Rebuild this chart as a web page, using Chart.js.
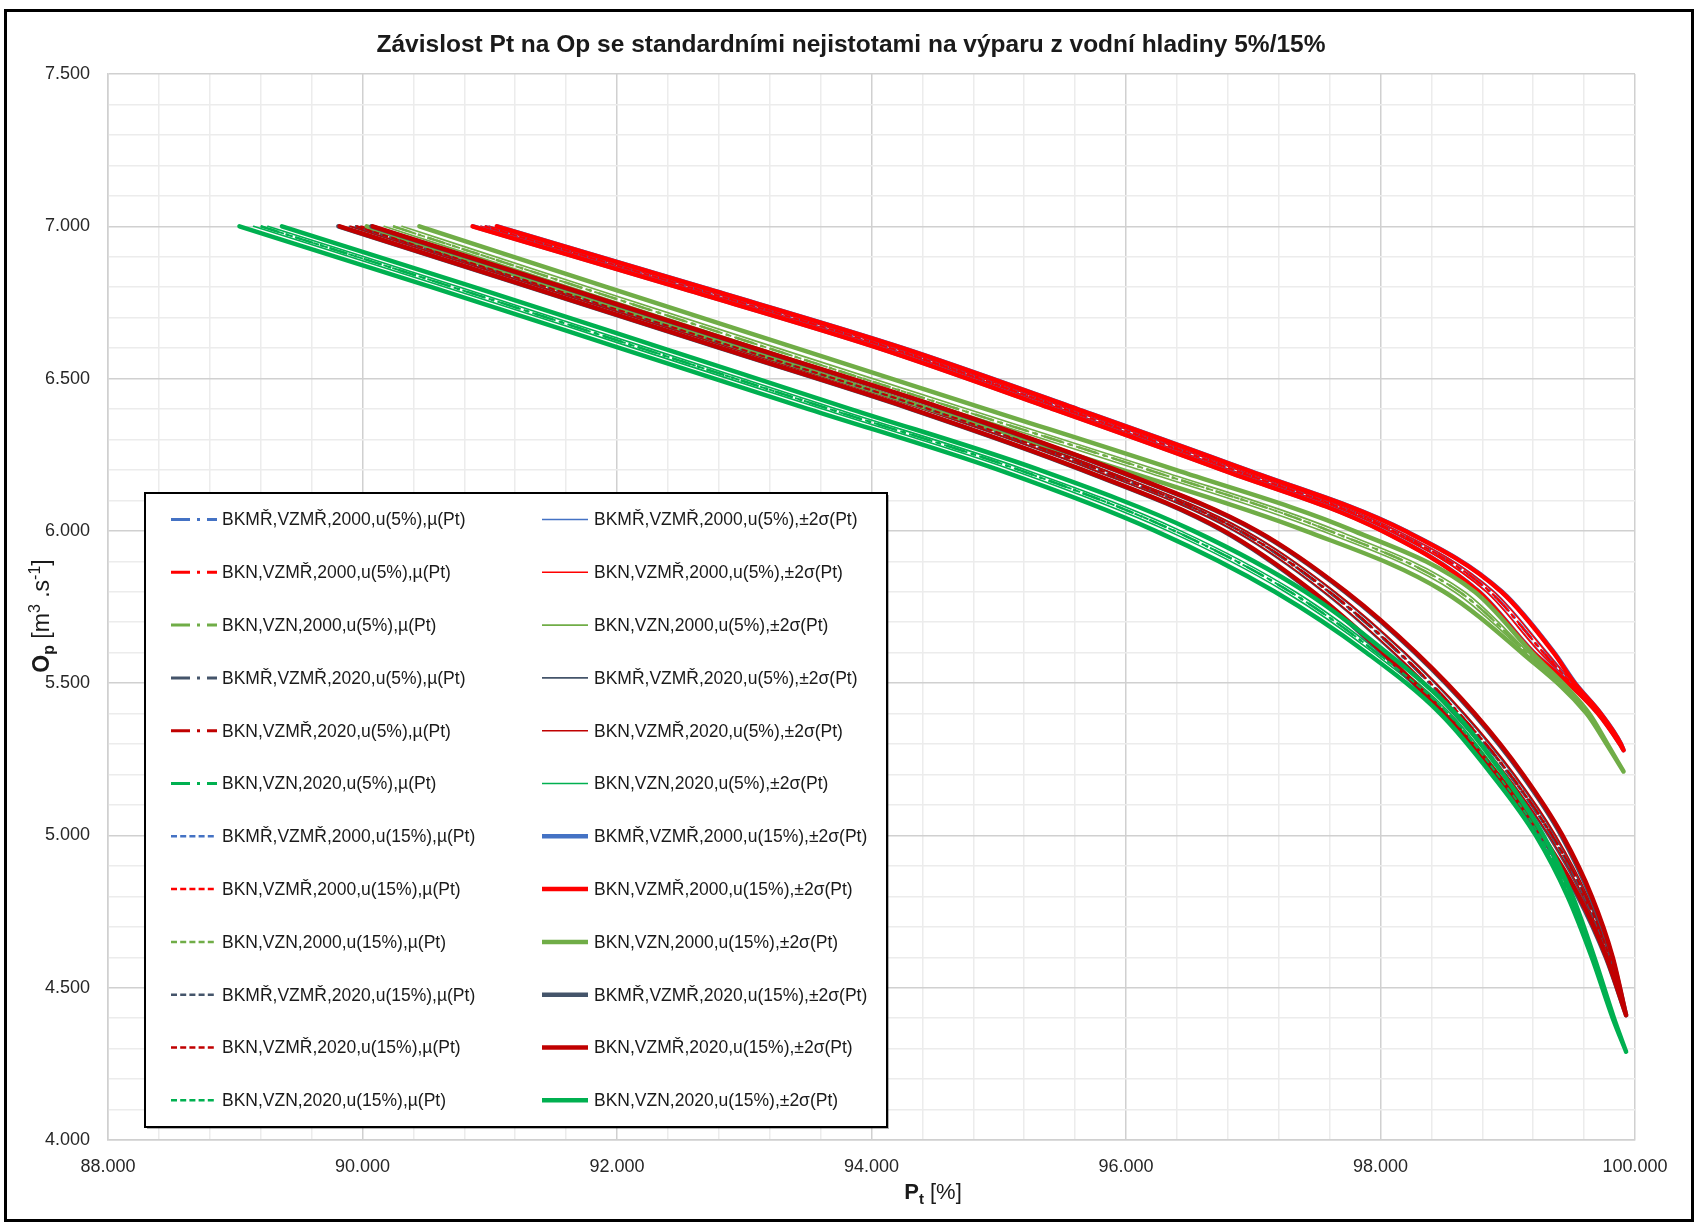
<!DOCTYPE html>
<html>
<head>
<meta charset="utf-8">
<script src="https://cdn.jsdelivr.net/npm/chart.js@4.4.1/dist/chart.umd.min.js"></script>
<style>
  html, body { margin: 0; background: #fff; }
  #wrap { width: 1698px; height: 1225px; position: relative; }
</style>
</head>
<body>
<div id="wrap"><canvas id="myChart"></canvas></div>
<script>
// scenarios and colours (order as in the legend)
const scenarios = ['BKMŘ,VZMŘ,2000', 'BKN,VZMŘ,2000', 'BKN,VZN,2000', 'BKMŘ,VZMŘ,2020', 'BKN,VZMŘ,2020', 'BKN,VZN,2020'];
const colors = ['#4472C4', '#FF0000', '#70AD47', '#44546A', '#C00000', '#00B050'];
const uncertainties = ['5%', '15%'];

// Op levels [m3/s] where Pt was read
const opA = [7.0, 6.8, 6.6, 6.4, 6.2, 6.0, 5.8, 5.6, 5.5, 5.4, 5.3, 5.28];
const opB = [7.0, 6.8, 6.6, 6.4, 6.2, 6.0, 5.8, 5.6, 5.4, 5.3, 5.21];
const opC = [7.0, 6.8, 6.6, 6.4, 6.2, 6.0, 5.8, 5.6, 5.4, 5.2, 5.0, 4.8, 4.6, 4.41];
const opD = [7.0, 6.8, 6.6, 6.4, 6.2, 6.0, 5.8, 5.6, 5.4, 5.2, 5.0, 4.8, 4.6, 4.4, 4.29];

// Pt [%] - BKMŘ,VZMŘ,2000
const mu_mr2000   = [90.965, 92.575, 94.155, 95.525, 96.855, 98.105, 98.865, 99.285, 99.505, 99.722, 99.886, 99.91];
const lo5_mr2000  = [90.933, 92.543, 94.123, 95.493, 96.823, 98.075, 98.835, 99.258, 99.497, 99.719, 99.885, 99.91];
const hi5_mr2000  = [90.997, 92.607, 94.187, 95.557, 96.887, 98.135, 98.895, 99.312, 99.513, 99.725, 99.887, 99.91];
const lo15_mr2000 = [90.870, 92.480, 94.060, 95.430, 96.760, 98.015, 98.775, 99.205, 99.480, 99.712, 99.882, 99.91];
const hi15_mr2000 = [91.060, 92.670, 94.250, 95.620, 96.950, 98.195, 98.955, 99.365, 99.530, 99.732, 99.890, 99.91];

// Pt [%] - BKN,VZMŘ,2000
const mu_nmr2000   = [90.960, 92.570, 94.150, 95.520, 96.850, 98.100, 98.860, 99.280, 99.500, 99.720, 99.885, 99.91];
const lo5_nmr2000  = [90.928, 92.538, 94.118, 95.488, 96.818, 98.070, 98.830, 99.253, 99.492, 99.717, 99.884, 99.91];
const hi5_nmr2000  = [90.992, 92.602, 94.182, 95.552, 96.882, 98.130, 98.890, 99.307, 99.508, 99.723, 99.886, 99.91];
const lo15_nmr2000 = [90.865, 92.475, 94.055, 95.425, 96.755, 98.010, 98.770, 99.200, 99.475, 99.710, 99.881, 99.91];
const hi15_nmr2000 = [91.055, 92.665, 94.245, 95.615, 96.945, 98.190, 98.950, 99.360, 99.525, 99.730, 99.889, 99.91];

// Pt [%] - BKN,VZN,2000
const mu_nn2000   = [90.240, 91.710, 93.190, 94.680, 96.180, 97.600, 98.620, 99.150, 99.630, 99.780, 99.91];
const lo5_nn2000  = [90.170, 91.640, 93.117, 94.607, 96.110, 97.537, 98.580, 99.137, 99.627, 99.779, 99.91];
const hi5_nn2000  = [90.310, 91.780, 93.263, 94.753, 96.250, 97.663, 98.660, 99.163, 99.633, 99.781, 99.91];
const lo15_nn2000 = [90.033, 91.500, 92.970, 94.460, 95.970, 97.410, 98.500, 99.110, 99.620, 99.776, 99.91];
const hi15_nn2000 = [90.447, 91.920, 93.410, 94.900, 96.390, 97.790, 98.740, 99.190, 99.640, 99.784, 99.91];

// Pt [%] - BKMŘ,VZMŘ,2020
const mu_mr2020   = [89.940, 91.440, 92.940, 94.440, 95.780, 96.890, 97.590, 98.140, 98.610, 99.010, 99.340, 99.600, 99.795, 99.93];
const lo5_mr2020  = [89.897, 91.397, 92.897, 94.397, 95.737, 96.847, 97.547, 98.097, 98.570, 98.977, 99.313, 99.583, 99.787, 99.93];
const hi5_mr2020  = [89.983, 91.483, 92.983, 94.483, 95.823, 96.933, 97.633, 98.183, 98.650, 99.043, 99.367, 99.617, 99.803, 99.93];
const lo15_mr2020 = [89.810, 91.310, 92.810, 94.310, 95.650, 96.760, 97.460, 98.010, 98.490, 98.910, 99.260, 99.550, 99.770, 99.93];
const hi15_mr2020 = [90.070, 91.570, 93.070, 94.570, 95.910, 97.020, 97.720, 98.270, 98.730, 99.110, 99.420, 99.650, 99.820, 99.93];

// Pt [%] - BKN,VZMŘ,2020
const mu_nmr2020   = [89.950, 91.450, 92.950, 94.450, 95.790, 96.900, 97.600, 98.150, 98.620, 99.020, 99.350, 99.610, 99.800, 99.93];
const lo5_nmr2020  = [89.907, 91.407, 92.907, 94.407, 95.747, 96.857, 97.557, 98.107, 98.580, 98.987, 99.323, 99.593, 99.792, 99.93];
const hi5_nmr2020  = [89.993, 91.493, 92.993, 94.493, 95.833, 96.943, 97.643, 98.193, 98.660, 99.053, 99.377, 99.627, 99.808, 99.93];
const lo15_nmr2020 = [89.820, 91.320, 92.820, 94.320, 95.660, 96.770, 97.470, 98.020, 98.500, 98.920, 99.270, 99.560, 99.775, 99.93];
const hi15_nmr2020 = [90.080, 91.580, 93.080, 94.580, 95.920, 97.030, 97.730, 98.280, 98.740, 99.120, 99.430, 99.660, 99.825, 99.93];

// Pt [%] - BKN,VZN,2020
const mu_nn2020   = [89.200, 90.710, 92.190, 93.670, 95.160, 96.380, 97.290, 97.970, 98.530, 98.920, 99.250, 99.490, 99.670, 99.830, 99.93];
const lo5_nn2020  = [89.144, 90.654, 92.134, 93.615, 95.107, 96.330, 97.250, 97.943, 98.510, 98.905, 99.240, 99.483, 99.667, 99.828, 99.93];
const hi5_nn2020  = [89.256, 90.766, 92.246, 93.725, 95.213, 96.430, 97.330, 97.997, 98.550, 98.935, 99.260, 99.497, 99.673, 99.832, 99.93];
const lo15_nn2020 = [89.033, 90.543, 92.023, 93.505, 95.000, 96.230, 97.170, 97.890, 98.470, 98.875, 99.220, 99.470, 99.660, 99.825, 99.93];
const hi15_nn2020 = [89.367, 90.877, 92.357, 93.835, 95.320, 96.530, 97.410, 98.050, 98.590, 98.965, 99.280, 99.510, 99.680, 99.835, 99.93];

const groups = [
  { op: opA, mu: mu_mr2000,  lo: [lo5_mr2000,  lo15_mr2000],  hi: [hi5_mr2000,  hi15_mr2000] },
  { op: opA, mu: mu_nmr2000, lo: [lo5_nmr2000, lo15_nmr2000], hi: [hi5_nmr2000, hi15_nmr2000] },
  { op: opB, mu: mu_nn2000,  lo: [lo5_nn2000,  lo15_nn2000],  hi: [hi5_nn2000,  hi15_nn2000] },
  { op: opC, mu: mu_mr2020,  lo: [lo5_mr2020,  lo15_mr2020],  hi: [hi5_mr2020,  hi15_mr2020] },
  { op: opC, mu: mu_nmr2020, lo: [lo5_nmr2020, lo15_nmr2020], hi: [hi5_nmr2020, hi15_nmr2020] },
  { op: opD, mu: mu_nn2020,  lo: [lo5_nn2020,  lo15_nn2020],  hi: [hi5_nn2020,  hi15_nn2020] },
];

const pts = (op, pt) => pt.map((x, i) => ({ x: x, y: op[i] }));

const muDash = [[19, 7, 3, 7], [6, 3.2]];
const muWidth = [2.5, 2];
const bandWidth = [1.6, 4.5];

const datasets = [];
uncertainties.forEach((u, ui) => {
  groups.forEach((g, gi) => {
    datasets.push({
      label: scenarios[gi] + ',u(' + u + '),µ(Pt)',
      data: pts(g.op, g.mu),
      borderColor: colors[gi],
      borderWidth: muWidth[ui],
      borderDash: muDash[ui],
    });
    datasets.push({
      label: scenarios[gi] + ',u(' + u + '),±2σ(Pt)',
      data: pts(g.op, g.lo[ui]).concat([{ x: null, y: null }], pts(g.op, g.hi[ui])),
      borderColor: colors[gi],
      borderWidth: bandWidth[ui],
      borderCapStyle: 'round',
    });
  });
});
datasets.forEach((d, i) => {
  d.order = -i;
  d.pointRadius = 0;
  d.fill = false;
  d.spanGaps = false;
  d.cubicInterpolationMode = 'monotone';
  d.borderJoinStyle = 'round';
});

const FONT = '"Liberation Sans", Arial, sans-serif';
const xMajor = v => Math.abs(v / 2 - Math.round(v / 2)) < 1e-6;
const yMajor = v => Math.abs(v * 2 - Math.round(v * 2)) < 1e-6;
const majorGrid = '#d0d0d0';
const minorGrid = '#ececec';

function richText(ctx, runs, cx, cy, rotate) {
  ctx.save();
  ctx.translate(cx, cy);
  if (rotate) ctx.rotate(-Math.PI / 2);
  let total = 0;
  runs.forEach(r => { ctx.font = r.font; r.w = ctx.measureText(r.t).width; total += r.w; });
  let x = -total / 2;
  ctx.textBaseline = 'alphabetic';
  ctx.fillStyle = '#1a1a1a';
  runs.forEach(r => { ctx.font = r.font; ctx.fillText(r.t, x, 8 + (r.dy || 0)); x += r.w; });
  ctx.restore();
}

const decor = {
  id: 'decor',
  beforeDraw(chart) {
    const ctx = chart.ctx;
    ctx.save();
    ctx.fillStyle = '#fff';
    ctx.fillRect(0, 0, chart.width, chart.height);
    ctx.restore();
  },
  afterDraw(chart) {
    const ctx = chart.ctx;
    ctx.save();
    // main title
    ctx.fillStyle = '#1a1a1a';
    ctx.font = 'bold 24.5px ' + FONT;
    ctx.textAlign = 'center';
    ctx.textBaseline = 'middle';
    ctx.fillText('Závislost Pt na Op se standardními nejistotami na výparu z vodní hladiny 5%/15%', 851, 45);
    ctx.textAlign = 'left';
    // axis titles
    richText(ctx, [
      { t: 'O', font: 'bold 23px ' + FONT },
      { t: 'p', font: 'bold 16px ' + FONT, dy: 5 },
      { t: ' [m', font: '23px ' + FONT },
      { t: '3', font: '16px ' + FONT, dy: -9 },
      { t: ' .s', font: '23px ' + FONT },
      { t: '-1', font: '16px ' + FONT, dy: -9 },
      { t: ']', font: '23px ' + FONT },
    ], 41, 616, true);
    richText(ctx, [
      { t: 'P', font: 'bold 22px ' + FONT },
      { t: 't', font: 'bold 15px ' + FONT, dy: 5 },
      { t: ' [%]', font: '22px ' + FONT },
    ], 933, 1191, false);

    // legend box
    const L = 145, T = 493, W = 742, H = 634;
    ctx.fillStyle = 'rgba(0,0,0,0.3)';
    ctx.fillRect(L + 2, T + 2, W, H);
    ctx.fillStyle = '#fff';
    ctx.fillRect(L, T, W, H);
    ctx.strokeStyle = '#000';
    ctx.lineWidth = 2;
    ctx.strokeRect(L, T, W, H);
    ctx.font = '17.5px ' + FONT;
    ctx.textBaseline = 'middle';
    for (let r = 0; r < 12; r++) {
      const y = 519.5 + r * 52.8;
      [[2 * r, 171, 222], [2 * r + 1, 542, 594]].forEach(([di, x0, tx]) => {
        const ds = chart.data.datasets[di];
        ctx.beginPath();
        ctx.setLineDash(ds.borderDash || []);
        ctx.lineWidth = ds.borderWidth + (ds.borderDash ? 0.5 : 0);
        ctx.strokeStyle = ds.borderColor;
        ctx.lineCap = 'butt';
        ctx.moveTo(x0, y);
        ctx.lineTo(x0 + 46, y);
        ctx.stroke();
        ctx.setLineDash([]);
        ctx.fillStyle = '#1a1a1a';
        ctx.fillText(ds.label, tx, y + 1);
      });
    }

    // outer frame
    ctx.strokeStyle = '#000';
    ctx.lineWidth = 3;
    ctx.strokeRect(5.5, 10.5, 1687, 1210);
    ctx.restore();
  }
};

new Chart(document.getElementById('myChart'), {
  type: 'line',
  data: { datasets: datasets },
  options: {
    responsive: true,
    maintainAspectRatio: false,
    animation: false,
    events: [],
    layout: { padding: { top: 74, right: 63, left: 0, bottom: 0 } },
    plugins: { legend: { display: false }, tooltip: { enabled: false }, title: { display: false } },
    scales: {
      x: {
        type: 'linear',
        min: 88, max: 100,
        afterFit: s => { s.height = 85; },
        ticks: {
          stepSize: 0.4, autoSkip: false, maxRotation: 0, padding: 16,
          color: '#262626', font: { family: FONT, size: 18 },
          callback: v => xMajor(v) ? v.toFixed(3) : '',
        },
        grid: { color: c => xMajor(c.tick.value) ? majorGrid : minorGrid, lineWidth: 1.5, drawTicks: false },
        border: { color: majorGrid, width: 1.5 },
      },
      y: {
        type: 'linear',
        min: 4, max: 7.5,
        afterFit: s => { s.width = 108; },
        ticks: {
          stepSize: 0.1, autoSkip: false, padding: 18,
          color: '#262626', font: { family: FONT, size: 18 },
          callback: v => yMajor(v) ? v.toFixed(3) : '',
        },
        grid: { color: c => yMajor(c.tick.value) ? majorGrid : minorGrid, lineWidth: 1.5, drawTicks: false },
        border: { color: majorGrid, width: 1.5 },
      },
    },
  },
  plugins: [decor],
});
</script>
</body>
</html>
